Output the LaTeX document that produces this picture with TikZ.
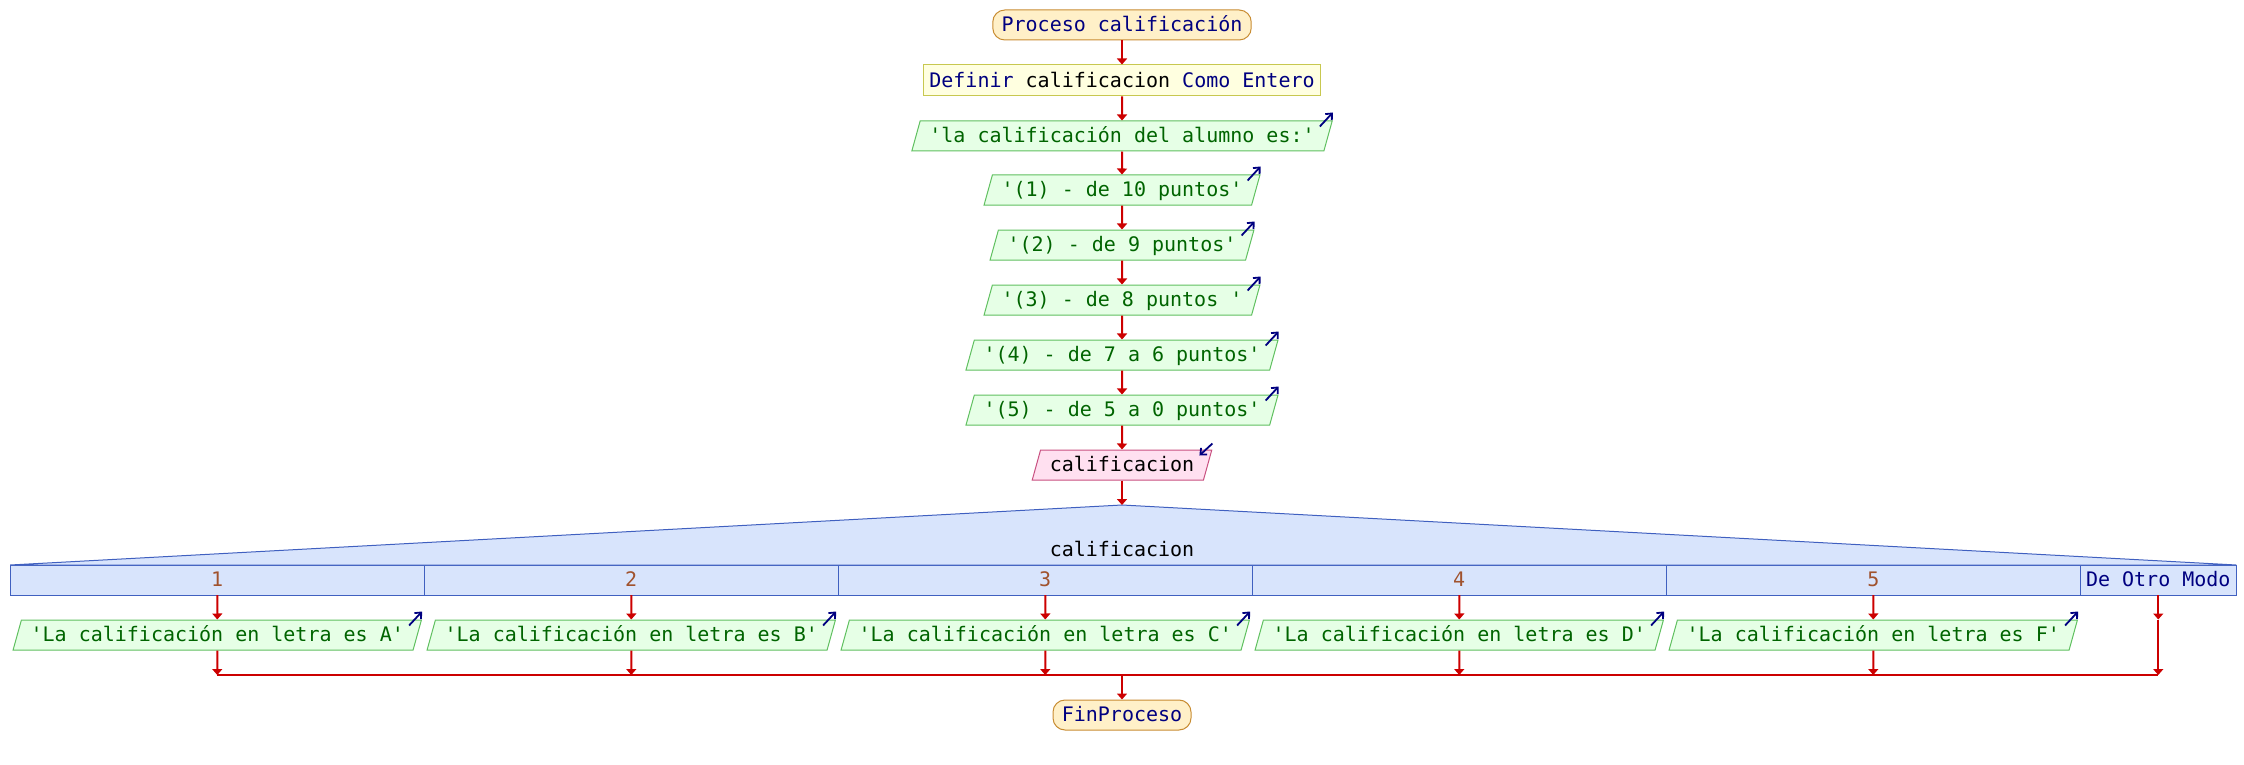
\documentclass[tikz,border=0pt]{standalone}
\usepackage{fontspec}
\setmonofont{DejaVu Sans Mono}
\usepackage{tikz}
\usetikzlibrary{arrows.meta, positioning, shapes.geometric, calc}
\definecolor{kwcol}{RGB}{0,0,128}
\definecolor{strcol}{RGB}{0,100,0}
\definecolor{numcol}{RGB}{160,82,45}
\definecolor{flowcol}{RGB}{204,0,0}
\definecolor{termfill}{RGB}{255,240,200}
\definecolor{termdraw}{RGB}{200,140,50}
\definecolor{deffill}{RGB}{255,255,224}
\definecolor{defdraw}{RGB}{200,200,80}
\definecolor{outfill}{RGB}{230,255,230}
\definecolor{outdraw}{RGB}{96,192,96}
\definecolor{infill}{RGB}{255,224,240}
\definecolor{indraw}{RGB}{200,80,128}
\definecolor{casefill}{RGB}{216,228,252}
\definecolor{casedraw}{RGB}{64,96,192}
\tikzset{
  basenode/.style={font=\ttfamily\fontsize{10pt}{12pt}\selectfont,text height=8.5pt,text depth=1.8pt,minimum height=15pt,inner ysep=0pt,line width=0.5pt},
  termnode/.style={basenode,rectangle,rounded corners=6pt,draw=termdraw,fill=termfill,text=kwcol,inner xsep=4.4pt},
  defnode/.style={basenode,rectangle,draw=defdraw,fill=deffill,text=kwcol,inner xsep=3pt,minimum height=15.5pt},
  outnode/.style={basenode,trapezium,trapezium left angle=68,trapezium right angle=112,trapezium stretches body,draw=outdraw,fill=outfill,text=strcol,inner xsep=4.6pt},
  innode/.style={outnode,draw=indraw,fill=infill,text=black},
  casecell/.style={basenode,rectangle,draw=casedraw,fill=casefill,text=numcol,minimum width=207pt,inner xsep=0pt,outer sep=0pt},
  flow/.style={-{Triangle[width=5pt,length=3pt]},draw=flowcol,line width=1pt},
  flowline/.style={draw=flowcol,line width=1pt},
  iconarrow/.style={-{Straight Barb[length=2.5pt,width=4.5pt]},draw=kwcol,line width=0.9pt},
}
\begin{document}
\begin{tikzpicture}[x=0.5pt,y=-0.5pt]
  \useasboundingbox (0,0) rectangle (2244,765);
  % secuencia principal
  \node[termnode] (ini) at (1122,25)   {Proceso calificación};
  \node[defnode]  (def) at (1122,80.5) {Definir \textcolor{black}{calificacion} Como Entero};
  \node[outnode]  (e0)  at (1122,136)  {'la calificación del alumno es:'};
  \node[outnode]  (e1)  at (1122,190)  {'(1) - de 10 puntos'};
  \node[outnode]  (e2)  at (1122,245)  {'(2) - de 9 puntos'};
  \node[outnode]  (e3)  at (1122,300)  {'(3) - de 8 puntos '};
  \node[outnode]  (e4)  at (1122,355)  {'(4) - de 7 a 6 puntos'};
  \node[outnode]  (e5)  at (1122,410)  {'(5) - de 5 a 0 puntos'};
  \node[innode]   (lee) at (1122,465)  {calificacion};
  \draw[flow] (ini) -- (def); \draw[flow] (def) -- (e0); \draw[flow] (e0) -- (e1);
  \draw[flow] (e1) -- (e2); \draw[flow] (e2) -- (e3); \draw[flow] (e3) -- (e4);
  \draw[flow] (e4) -- (e5); \draw[flow] (e5) -- (lee);
  % segun
  \node[casecell] (c1) at (217.25,580) {1};
  \node[casecell,right=0pt of c1] (c2) {2};
  \node[casecell,right=0pt of c2] (c3) {3};
  \node[casecell,right=0pt of c3] (c4) {4};
  \node[casecell,right=0pt of c4] (c5) {5};
  \node[casecell,right=0pt of c5,minimum width=78pt,text=kwcol] (cO) {De Otro Modo};
  \coordinate (cima) at (1122,505);
  \filldraw[draw=casedraw,fill=casefill,line width=0.5pt] (c1.north west) -- (cima) -- (cO.north east) -- cycle;
  \node[basenode,text=black] (sel) at (1122,550) {calificacion};
  \draw[flow] (lee) -- (cima);
  \node[outnode,minimum width=204pt] (s1) at (c1 |- 0,635) {'La calificación en letra es A'};
  \node[outnode,minimum width=204pt] (s2) at (c2 |- 0,635) {'La calificación en letra es B'};
  \node[outnode,minimum width=204pt] (s3) at (c3 |- 0,635) {'La calificación en letra es C'};
  \node[outnode,minimum width=204pt] (s4) at (c4 |- 0,635) {'La calificación en letra es D'};
  \node[outnode,minimum width=204pt] (s5) at (c5 |- 0,635) {'La calificación en letra es F'};
  \coordinate (j1) at (c1 |- 0,675); \coordinate (j2) at (c2 |- 0,675);
  \coordinate (j3) at (c3 |- 0,675); \coordinate (j4) at (c4 |- 0,675);
  \coordinate (j5) at (c5 |- 0,675); \coordinate (jO) at (cO |- 0,675);
  \coordinate (kO) at (cO |- s1.north); \coordinate (jc) at (1122,675);
  \draw[flowline] (j1) -- (jO);
  \draw[flow] (c1.south) -- (s1.north); \draw[flow] (s1.south) -- (j1);
  \draw[flow] (c2.south) -- (s2.north); \draw[flow] (s2.south) -- (j2);
  \draw[flow] (c3.south) -- (s3.north); \draw[flow] (s3.south) -- (j3);
  \draw[flow] (c4.south) -- (s4.north); \draw[flow] (s4.south) -- (j4);
  \draw[flow] (c5.south) -- (s5.north); \draw[flow] (s5.south) -- (j5);
  \draw[flow] (cO.south) -- (kO); \draw[flow] (kO) -- (jO);
  \node[termnode] (fin) at (1122,715) {FinProceso};
  \draw[flow] (jc) -- (fin);
  % flechitas de escritura / lectura
  \foreach \n in {e0,e1,e2,e3,e4,e5,s1,s2,s3,s4,s5}
    \draw[iconarrow] ($(\n.top right corner)+(-13,6)$) -- ($(\n.top right corner)+(0,-8)$);
  \draw[iconarrow] ($(lee.top right corner)+(0,-6)$) -- ($(lee.top right corner)+(-13,6)$);
\end{tikzpicture}
\end{document}
